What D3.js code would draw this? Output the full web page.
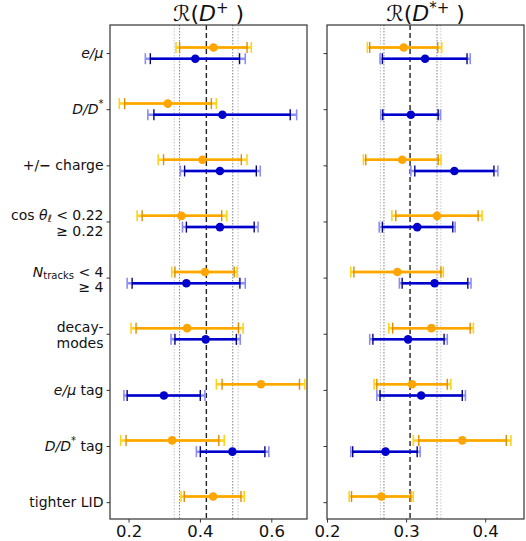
<!DOCTYPE html>
<html>
<head>
<meta charset="utf-8">
<script src="https://cdnjs.cloudflare.com/ajax/libs/d3/7.8.5/d3.min.js"></script>
<style>
  html, body { margin: 0; padding: 0; background: #fff; }
  svg { display: block; font-family: "DejaVu Sans", sans-serif; }
</style>
</head>
<body>
<svg id="chart" width="526" height="541"></svg>
<script>
// ---------- data ----------
const categories = ["e/mu", "D/D*", "charge", "cos", "Ntracks", "decay", "e/mu tag", "D/D* tag", "tighter LID"];

// R(D+) panel
const orangeD       = [0.438, 0.310, 0.407, 0.348, 0.414, 0.364, 0.571, 0.322, 0.437];
const orangeDStatLo = [0.343, 0.189, 0.298, 0.238, 0.330, 0.221, 0.462, 0.193, 0.356];
const orangeDStatHi = [0.532, 0.432, 0.516, 0.461, 0.496, 0.508, 0.679, 0.453, 0.515];
const orangeDTotLo  = [0.333, 0.174, 0.283, 0.224, 0.321, 0.207, 0.446, 0.178, 0.347];
const orangeDTotHi  = [0.544, 0.446, 0.532, 0.475, 0.504, 0.521, 0.694, 0.468, 0.524];
const blueD         = [0.387, 0.463, 0.456, 0.456, 0.362, 0.416, 0.299, 0.491, null];
const blueDStatLo   = [0.261, 0.271, 0.357, 0.362, 0.210, 0.330, 0.196, 0.401, null];
const blueDStatHi   = [0.511, 0.653, 0.558, 0.552, 0.512, 0.502, 0.401, 0.582, null];
const blueDTotLo    = [0.247, 0.254, 0.345, 0.351, 0.196, 0.319, 0.187, 0.390, null];
const blueDTotHi    = [0.527, 0.671, 0.569, 0.563, 0.527, 0.513, 0.414, 0.593, null];
const refD = [0.418, 0.343, 0.492, 0.328, 0.507]; // central, statLo, statHi, totLo, totHi

// R(D*+) panel
const orangeDs       = [0.297, null, 0.295, 0.339, 0.289, 0.332, 0.3075, 0.371, 0.2687];
const orangeDsStatLo = [0.254, null, 0.249, 0.287, 0.234, 0.283, 0.263, 0.316, 0.231];
const orangeDsStatHi = [0.340, null, 0.3405, 0.391, 0.344, 0.381, 0.352, 0.4266, 0.306];
const orangeDsTotLo  = [0.251, null, 0.246, 0.282, 0.230, 0.278, 0.2595, 0.309, 0.228];
const orangeDsTotHi  = [0.345, null, 0.344, 0.396, 0.347, 0.385, 0.3565, 0.4325, 0.309];
const blueDs         = [0.324, 0.306, 0.361, 0.314, 0.336, 0.3025, 0.319, 0.274, null];
const blueDsStatLo   = [0.270, 0.2705, 0.311, 0.270, 0.295, 0.258, 0.267, 0.2325, null];
const blueDsStatHi   = [0.377, 0.3405, 0.411, 0.359, 0.378, 0.348, 0.371, 0.314, null];
const blueDsTotLo    = [0.267, 0.268, 0.306, 0.266, 0.2915, 0.254, 0.263, 0.230, null];
const blueDsTotHi    = [0.381, 0.3435, 0.416, 0.362, 0.382, 0.352, 0.375, 0.3177, null];
const refDs = [0.305, 0.272, 0.339, 0.2675, 0.344];

const ticksD = [0.2, 0.4, 0.6];
const ticksDs = [0.2, 0.3, 0.4];

// ---------- layout ----------
const svg = d3.select("#chart");
const yTop = 25, yBottom = 519;
const y = d3.scaleLinear().domain([-0.5, 8.3]).range([yTop, yBottom]);
const off = 0.1;

const panels = [
  { x: d3.scaleLinear().domain([0.148, 0.70]).range([110, 307]), ticks: ticksD, ref: refD,
    title: "D", sup: "+",
    series: [
      { c: orangeD, sl: orangeDStatLo, sh: orangeDStatHi, tl: orangeDTotLo, th: orangeDTotHi, dy: -off, main: "#FFA500", cap: "#E08A00", outer: "#FFD21A" },
      { c: blueD, sl: blueDStatLo, sh: blueDStatHi, tl: blueDTotLo, th: blueDTotHi, dy: off, main: "#0000CD", cap: "#00008B", outer: "#8C8CF5" }
    ]},
  { x: d3.scaleLinear().domain([0.2, 0.449]).range([327, 524]), ticks: ticksDs, ref: refDs,
    title: "D", sup: "*+",
    series: [
      { c: orangeDs, sl: orangeDsStatLo, sh: orangeDsStatHi, tl: orangeDsTotLo, th: orangeDsTotHi, dy: -off, main: "#FFA500", cap: "#E08A00", outer: "#FFD21A" },
      { c: blueDs, sl: blueDsStatLo, sh: blueDsStatHi, tl: blueDsTotLo, th: blueDsTotHi, dy: off, main: "#0000CD", cap: "#00008B", outer: "#8C8CF5" }
    ]}
];

panels.forEach((p, pi) => {
  const g = svg.append("g");
  const [x0, x1] = p.x.range();

  // reference lines
  const vline = (v, color, dash, w) => g.append("line")
    .attr("x1", p.x(v)).attr("x2", p.x(v)).attr("y1", yTop).attr("y2", yBottom)
    .attr("stroke", color).attr("stroke-width", w).attr("stroke-dasharray", dash);
  vline(p.ref[3], "#c4c4c4", "1.5,1.5", 1);
  vline(p.ref[4], "#c4c4c4", "1.5,1.5", 1);
  vline(p.ref[1], "#808080", "1.5,1.5", 1);
  vline(p.ref[2], "#808080", "1.5,1.5", 1);
  vline(p.ref[0], "#222", "5,3", 1.4);

  // error bars
  p.series.forEach(s => {
    s.c.forEach((v, i) => {
      if (v === null) return;
      const yy = y(i + s.dy);
      // total extension
      g.append("line").attr("x1", p.x(s.tl[i])).attr("x2", p.x(s.th[i]))
        .attr("y1", yy).attr("y2", yy).attr("stroke", s.outer).attr("stroke-width", 2.5);
      [s.tl[i], s.th[i]].forEach(e => g.append("line")
        .attr("x1", p.x(e)).attr("x2", p.x(e)).attr("y1", yy - 5.5).attr("y2", yy + 5.5)
        .attr("stroke", s.outer).attr("stroke-width", 1.6));
      // stat
      g.append("line").attr("x1", p.x(s.sl[i])).attr("x2", p.x(s.sh[i]))
        .attr("y1", yy).attr("y2", yy).attr("stroke", s.main).attr("stroke-width", 2.5);
      [s.sl[i], s.sh[i]].forEach(e => g.append("line")
        .attr("x1", p.x(e)).attr("x2", p.x(e)).attr("y1", yy - 5.5).attr("y2", yy + 5.5)
        .attr("stroke", s.cap).attr("stroke-width", 1.4));
      g.append("circle").attr("cx", p.x(v)).attr("cy", yy).attr("r", 4.3).attr("fill", s.main);
    });
  });

  // frame
  g.append("rect").attr("x", x0).attr("y", yTop).attr("width", x1 - x0).attr("height", yBottom - yTop)
    .attr("fill", "none").attr("stroke", "#333").attr("stroke-width", 1.2);

  // x axis
  const xa = g.append("g").attr("transform", `translate(0,${yBottom})`)
    .call(d3.axisBottom(p.x).tickValues(p.ticks).tickFormat(d3.format(".1f")).tickSize(3.5).tickPadding(3));
  xa.select(".domain").remove();
  xa.selectAll("line").attr("stroke", "#333");
  xa.selectAll("text").attr("font-size", 16.5).attr("fill", "#111").attr("font-family", "DejaVu Sans");

  // y ticks
  const ya = g.append("g").attr("transform", `translate(${x0},0)`)
    .call(d3.axisLeft(y).tickValues(d3.range(categories.length)).tickSize(3.5).tickFormat(""));
  ya.select(".domain").remove();
  ya.selectAll("line").attr("stroke", "#333");

  // title
  const t = svg.append("text").attr("x", (x0 + x1) / 2).attr("y", 21).attr("text-anchor", "middle")
    .attr("font-size", 22).attr("fill", "#111");
  t.append("tspan").text("ℛ(");
  t.append("tspan").attr("font-style", "italic").text(p.title);
  t.append("tspan").attr("dy", -8).attr("font-size", 15).text(p.sup);
  t.append("tspan").attr("dy", 8).text(" )");
});

// ---------- y labels ----------
const lx = 103.5;
const lab = svg.append("g").attr("font-size", 14).attr("fill", "#111").attr("text-anchor", "end");
function line(i, dy) {
  return lab.append("text").attr("x", lx).attr("y", y(i) + dy).attr("dominant-baseline", "central");
}
// e/mu
line(0, 0).append("tspan").attr("font-style", "italic").text("e/μ");
// D/D*
(() => { const t = line(1, 0);
  t.append("tspan").attr("font-style", "italic").text("D/D");
  t.append("tspan").attr("font-size", 10).attr("dy", -6).text("*"); })();
// +/- charge
(() => { const t = line(2, 0);
  t.append("tspan").text("+/");
  t.append("tspan").attr("font-weight", "bold").text("−");
  t.append("tspan").text("  charge"); })();
// cos theta
(() => { const t = line(3, -6.5);
  t.append("tspan").text("cos ");
  t.append("tspan").attr("font-style", "italic").text("θ");
  t.append("tspan").attr("font-style", "italic").attr("font-size", 10).attr("dy", 3).text("ℓ");
  t.append("tspan").attr("dy", -3).text(" < 0.22");
  line(3, 9.5).text("≥  0.22"); })();
// N tracks
(() => { const t = line(4, -5.5);
  t.append("tspan").attr("font-style", "italic").text("N");
  t.append("tspan").attr("font-size", 10).attr("dy", 3).text("tracks");
  t.append("tspan").attr("dy", -3).text(" < 4");
  line(4, 9.5).text("≥  4"); })();
// decay modes
line(5, -6.5).text("decay-");
line(5, 9.5).text("modes");
// e/mu tag
(() => { const t = line(6, 0);
  t.append("tspan").attr("font-style", "italic").text("e/μ");
  t.append("tspan").text(" tag"); })();
// D/D* tag
(() => { const t = line(7, 0);
  t.append("tspan").attr("font-style", "italic").text("D/D");
  t.append("tspan").attr("font-size", 10).attr("dy", -6).text("*");
  t.append("tspan").attr("dy", 6).text(" tag"); })();
// tighter LID
line(8, 0).text("tighter LID");
</script>
</body>
</html>
